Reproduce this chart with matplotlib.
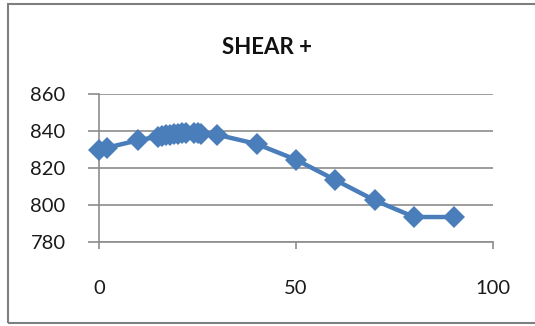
import matplotlib
matplotlib.use('Agg')
from matplotlib import pyplot as plt
from matplotlib.patches import Rectangle

# данные
angle = [0, 2, 10, 15, 16, 17, 18, 19, 20, 21, 22, 24, 25, 26, 30, 40, 50, 60, 70, 80, 90]
shear = [830, 831, 835, 837, 837.5, 838, 838, 838.5, 838.5, 839, 839, 839, 839, 838.5,
         838, 833, 824.5, 813.5, 802.5, 793.5, 793.5]

x_ticks = [0, 50, 100]
y_ticks = [780, 800, 820, 840, 860]
title = 'SHEAR +'


def build_graphics(x, y, output_png):
    plt.rcParams['font.family'] = ['Lato', 'DejaVu Sans']
    fig = plt.figure(figsize=(5.35, 3.26), dpi=100)
    ax = fig.add_axes([99 / 535, 1 - 242 / 326, (493 - 99) / 535, (242 - 94) / 326])

    grey = '#8c8c8c'
    ax.plot(x, y, color='#4a7ebb', linewidth=3.2, marker='D', markersize=11,
            markeredgewidth=0, clip_on=False, zorder=3)

    ax.set_xlim(0, 100)
    ax.set_ylim(780, 860)
    ax.set_xticks(x_ticks)
    ax.set_yticks(y_ticks)
    ax.grid(axis='y', color=grey, linewidth=1.2)
    ax.set_axisbelow(True)

    for side in ['top', 'right']:
        ax.spines[side].set_visible(False)
    for side in ['left', 'bottom']:
        ax.spines[side].set_color(grey)
        ax.spines[side].set_linewidth(1.2)

    ax.tick_params(axis='x', length=5, width=1.2, color=grey, pad=22, labelsize=14.5, labelcolor='#1a1a1a')
    ax.tick_params(axis='y', length=8, width=1.2, color=grey, pad=16, labelsize=14.5, labelcolor='#1a1a1a')

    fig.text(0.5, 1 - 47 / 326, title, ha='center', va='center', fontsize=16, fontweight='bold', color='#111111')

    # рамка вокруг диаграммы
    fig.patches.append(Rectangle((8 / 535, 3 / 326), 1.0, 1 - 7 / 326, transform=fig.transFigure,
                                 fill=False, edgecolor='#7f7f7f', linewidth=1.5))

    fig.savefig(output_png, dpi=100)


def main():
    build_graphics(angle, shear, 'out.png')


if __name__ == "__main__":
    main()
